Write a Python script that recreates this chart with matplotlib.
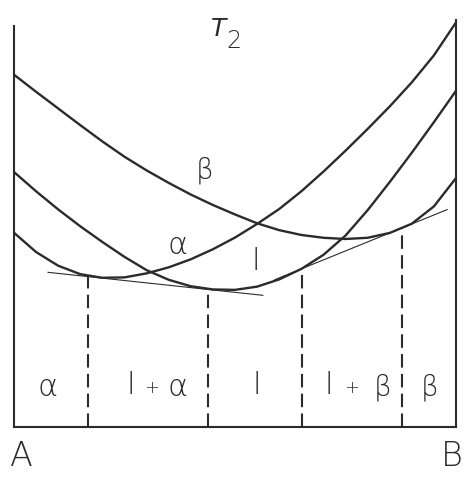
import numpy as np
import matplotlib
matplotlib.use("Agg")
import matplotlib.pyplot as plt

# Composition axis: 0 = pure A, 100 = pure B (arbitrary free-energy units on y)
composition = [0, 5, 10, 15, 20, 25, 30, 35, 40, 45, 50,
               55, 60, 65, 70, 75, 80, 85, 90, 95, 100]

G_alpha = [48.3, 43.5, 40.1, 38.0, 37.1, 37.2, 38.2, 39.7, 41.7, 44.2, 47.1,
           50.5, 54.2, 58.6, 63.5, 68.7, 74.1, 79.7, 85.7, 92.4, 100.6]

G_liquid = [63.4, 58.6, 54.1, 49.9, 46.0, 42.3, 39.0, 36.6, 35.0, 34.2, 34.1,
            34.9, 36.7, 39.3, 42.8, 47.6, 53.9, 60.9, 68.2, 75.8, 83.6]

G_beta = [87.6, 83.35, 79.2, 75.05, 71.0, 67.2, 63.8, 60.7, 57.8, 55.2, 52.85,
          50.65, 48.95, 47.75, 47.05, 46.75, 47.05, 48.25, 50.55, 54.85, 61.9]

# Common tangent points (composition, G)
tangent_alpha_liquid = [(16.7, 37.4), (43.9, 34.2)]
tangent_liquid_beta = [(65.2, 39.4), (87.8, 49.5)]
tangent1_span = (7.7, 56.3)
tangent2_span = (59.0, 98.0)

ink = "#2b2b2b"
W, H = 471, 484
fig = plt.figure(figsize=(W / 100, H / 100), dpi=100)
ax = fig.add_axes([14 / W, 57 / H, 442 / W, 407 / H])
ax.set_xlim(0, 100)
ax.set_ylim(0, 101.2)
ax.set_xticks([])
ax.set_yticks([])
ax.spines["top"].set_visible(False)
for s in ("left", "right", "bottom"):
    ax.spines[s].set_linewidth(1.5)
    ax.spines[s].set_color(ink)
ax.spines["left"].set_bounds(0, 99.8)

for G in (G_alpha, G_liquid, G_beta):
    ax.plot(composition, G, color=ink, lw=1.7, solid_joinstyle="round",
            solid_capstyle="round", clip_on=False)

# Common tangent construction with the phase boundaries dropped to the axis
for (p, q), span in ((tangent_alpha_liquid, tangent1_span),
                     (tangent_liquid_beta, tangent2_span)):
    slope = (q[1] - p[1]) / (q[0] - p[0])
    xs = np.array(span)
    ax.plot(xs, p[1] + slope * (xs - p[0]), color=ink, lw=0.8)
    for cx, gy in (p, q):
        ax.plot([cx, cx], [0, gy], color=ink, lw=1.5, linestyle=(0, (6.5, 3)))

font = dict(family=["DejaVu Sans"], color=ink, fontweight="light")


def label(px, py, s, size, **kw):
    fig.text(px / W, 1 - py / H, s, ha="center", va="center",
             fontsize=size, **font, **kw)


# Phase fields along the bottom
label(48, 387, "α", 22)
label(131, 386, "l", 22)
label(152, 388, "+", 13)
label(178, 387, "α", 22)
label(257, 386, "l", 22)
label(329, 386, "l", 22)
label(352, 388, "+", 13)
label(383, 387, "β", 20)
label(430, 387, "β", 20)

# Curve labels
label(205, 170, "β", 20)
label(178, 246, "α", 22)
label(256, 261, "l", 22)

# Temperature
label(219, 29, "T", 18, style="italic")
label(234, 41, "2", 17)

label(21, 457, "A", 24)
label(452, 457, "B", 24)

fig.savefig("out.png", dpi=100, facecolor="white")
